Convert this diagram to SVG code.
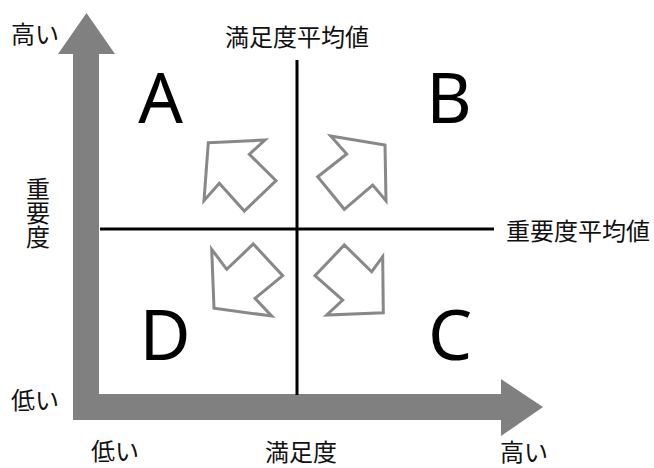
<svg xmlns="http://www.w3.org/2000/svg" width="654" height="468" viewBox="0 0 654 468">
<style>
.t{font-family:"Noto Sans CJK JP","Noto Sans",sans-serif;font-size:24px;fill:#111}
.v{writing-mode:vertical-rl;text-orientation:upright;letter-spacing:0}
.big{font-family:"Noto Sans","Noto Sans CJK JP",sans-serif;font-size:70px;fill:#000;text-anchor:middle}
.ax{fill:#808080}
.ha{fill:none;stroke:#888;stroke-width:3;stroke-linejoin:miter}
.ln{stroke:#000;stroke-width:3}
</style>
<rect width="654" height="468" fill="#fff"/>
<g id="axes">
<path class="ax" d="M73,54 L58,54 L86.5,13 L115,54 L99,54 L99,394 L501,394 L501,379 L543,407 L501,436 L501,420 L73,420 Z"/>
</g>
<g id="connectors">
<line class="ln" x1="297" y1="60" x2="297" y2="395"/>
<line class="ln" x1="100" y1="229" x2="494" y2="229"/>
</g>
<g id="arrows">
<polygon class="ha" points="208.3,142.7 265,140 249.3,154.3 276,180.7 244.3,211 219.3,183.3 204,200.7"/>
<polygon class="ha" points="330.7,136 385,145 386,200.7 372.7,185 344.3,209.3 317.7,176.7 346.7,154"/>
<polygon class="ha" points="211.7,249.3 226.7,269.3 253.3,244 282.7,275.7 255,298.3 271.7,316 214,308.3"/>
<polygon class="ha" points="382.7,256.7 383.3,312.7 326.7,315 342.7,300 315,275.7 344.3,245 371.7,271.7"/>
</g>
<g id="quadA"><text class="big" x="160.5" y="123">A</text></g>
<g id="quadB"><text class="big" x="449" y="123">B</text></g>
<g id="quadC"><text class="big" x="450" y="360">C</text></g>
<g id="quadD"><text class="big" x="165" y="360">D</text></g>
<g id="labels">
<text class="t" x="11" y="43">高い</text>
<text class="t" x="297" y="46" text-anchor="middle">満足度平均値</text>
<text class="t v" x="38" y="177">重要度</text>
<text class="t" x="506" y="240">重要度平均値</text>
<text class="t" x="11" y="409">低い</text>
<text class="t" x="91" y="460">低い</text>
<text class="t" x="301" y="461" text-anchor="middle">満足度</text>
<text class="t" x="500" y="461">高い</text>
</g>
</svg>
